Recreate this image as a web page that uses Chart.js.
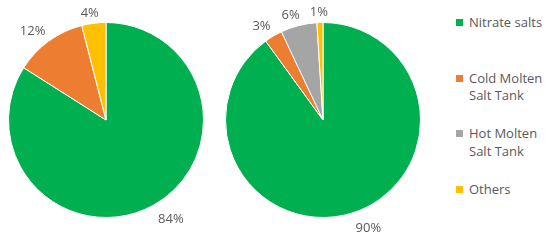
<!DOCTYPE html>
<html>
<head>
<meta charset="utf-8">
<script src="https://cdn.jsdelivr.net/npm/chart.js@4.4.1/dist/chart.umd.min.js"></script>
<style>
  html, body { margin: 0; padding: 0; background: #ffffff; }
  #wrap { position: relative; width: 550px; height: 241px; overflow: hidden; font-family: "Open Sans", sans-serif; }
  canvas { position: absolute; top: 0; }
  #c1 { left: 0px; }
  #c2 { left: 224px; }
  .leg { position: absolute; left: 456px; color: #595959; font-size: 13px; line-height: 17.5px; }
  .leg .sw { position: absolute; left: 0; top: 5px; width: 7px; height: 7px; }
  .leg .tx { position: absolute; left: 13px; top: 0; white-space: nowrap; }
</style>
</head>
<body>
<div id="wrap">
  <canvas id="c1" width="212" height="241"></canvas>
  <canvas id="c2" width="198" height="241"></canvas>
  <div id="legend"></div>
</div>
<script>
// ---- data ----
const categories = ["Nitrate salts", "Cold Molten Salt Tank", "Hot Molten Salt Tank", "Others"];
const legendLines = [["Nitrate salts"], ["Cold Molten", "Salt Tank"], ["Hot Molten", "Salt Tank"], ["Others"]];
const pieLeftValues = [84, 12, 0, 4];
const pieRightValues = [90, 3, 6, 1];
const colors = ["#00B050", "#ED7D31", "#A5A5A5", "#FFC000"];

// ---- outside-end percentage labels ----
const clamp = (v, a, b) => Math.max(a, Math.min(b, v));
const outsideLabels = {
  id: "outsideLabels",
  afterDatasetsDraw(chart) {
    const ctx = chart.ctx;
    const meta = chart.getDatasetMeta(0);
    const data = chart.data.datasets[0].data;
    ctx.save();
    ctx.font = '13px "Open Sans", sans-serif';
    ctx.fillStyle = "#595959";
    ctx.textAlign = "center";
    ctx.textBaseline = "middle";
    meta.data.forEach((arc, i) => {
      const v = data[i];
      if (!v) return;
      const p = arc.getProps(["x", "y", "startAngle", "endAngle", "outerRadius"], true);
      const mid = (p.startAngle + p.endAngle) / 2;
      const dx = Math.cos(mid), dy = Math.sin(mid);
      const text = v + "%";
      const w = ctx.measureText(text).width;
      const h = 10;
      const gap = 8 + 3 * dy;
      const d = p.outerRadius + gap;
      const px = p.x + dx * d, py = p.y + dy * d;
      const cx = px + (w / 2) * clamp(dx * 3, -1, 1);
      const cy = py + (h / 2) * clamp(dy * 3, -1, 1);
      ctx.fillText(text, cx, cy);
    });
    ctx.restore();
  }
};

function makePie(id, values) {
  return new Chart(document.getElementById(id), {
    type: "pie",
    data: {
      labels: categories,
      datasets: [{
        data: values,
        backgroundColor: colors,
        borderColor: "#ffffff",
        borderWidth: 1
      }]
    },
    options: {
      responsive: false,
      devicePixelRatio: 1,
      animation: false,
      layout: { padding: { top: 22, bottom: 23, left: 0, right: 0 } },
      plugins: {
        legend: { display: false },
        tooltip: { enabled: false }
      }
    },
    plugins: [outsideLabels]
  });
}

makePie("c1", pieLeftValues);
makePie("c2", pieRightValues);

// ---- legend ----
const legend = document.getElementById("legend");
legendLines.forEach((lines, i) => {
  const item = document.createElement("div");
  item.className = "leg";
  item.style.top = (14 + i * 55.7) + "px";
  const sw = document.createElement("div");
  sw.className = "sw";
  sw.style.background = colors[i];
  const tx = document.createElement("div");
  tx.className = "tx";
  tx.innerHTML = lines.join("<br>");
  item.appendChild(sw);
  item.appendChild(tx);
  legend.appendChild(item);
});
</script>
</body>
</html>
